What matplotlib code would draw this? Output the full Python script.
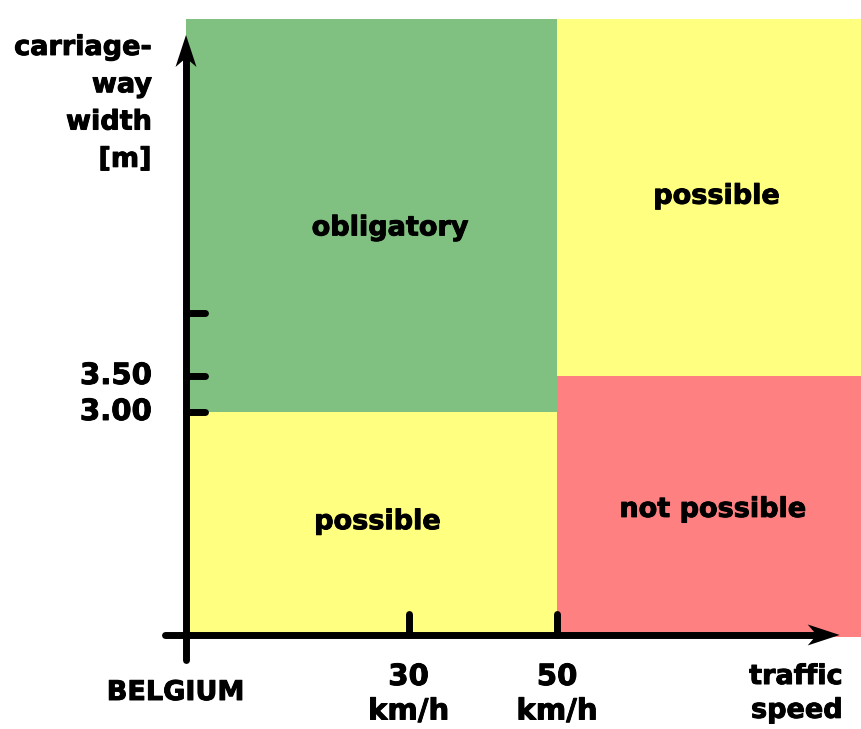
import matplotlib.pyplot as plt
import matplotlib.patheffects as pe
from matplotlib.patches import Polygon

# schematic axes: speed in km/h, carriageway width in m
speed_ticks = [30, 50]
speed_labels = ["30", "50"]
width_ticks = [3.00, 3.50, 4.375]
width_labels = ["3.00", "3.50", ""]

# zones: speed range, width range, colour, label
zone_speed = [(0, 50), (50, 92), (0, 50), (50, 92)]
zone_width = [(3.00, 8.46), (3.50, 8.46), (-0.12, 3.00), (-0.12, 3.50)]
zone_color = ["#80c080", "#ffff80", "#ffff80", "#ff8080"]
zone_label = ["obligatory", "possible", "possible", "not possible"]
zone_label_pos = [(27.5, 5.55), (71.5, 5.99), (25.8, 1.47), (71.0, 1.64)]

ylabel_lines = ["carriage-", "way", "width", "[m]"]
xlabel_lines = ["traffic", "speed"]

FONT = "DejaVu Sans"
FS = 19.5
# slightly heavier glyphs
heavy = [pe.withStroke(linewidth=0.7, foreground="black")]

fig = plt.figure(figsize=(8.62, 7.29), dpi=100)
ax = fig.add_axes([0, 0, 1, 1])
ax.set_xlim(-25.07, 91.11)
ax.set_ylim(-1.403, 8.722)
ax.axis("off")

# pixel size of one data unit (for arrow heads)
px_x = 7.42
px_y = 72.0

for (x0, x1), (y0, y1), c in zip(zone_speed, zone_width, zone_color):
    ax.bar(x0, y1 - y0, width=x1 - x0, bottom=y0, align="edge",
           color=c, linewidth=0, zorder=1)

for txt, (x, y) in zip(zone_label, zone_label_pos):
    ax.text(x, y, txt, ha="center", va="center", fontsize=FS,
            fontweight="bold", family=FONT, zorder=3, path_effects=heavy)

# axes with arrow heads
lw = 5
x_axis_y = -0.097
y_tip = 8.236
x_tip = 88.1
ax.plot([0, 0], [-0.444, y_tip - 20 / px_y], color="black", lw=lw,
        solid_capstyle="round", zorder=4)
ax.plot([-2.83, x_tip - 20 / px_x], [x_axis_y, x_axis_y], color="black",
        lw=lw, solid_capstyle="round", zorder=4)
hl, hw, notch = 32, 10.5, 23
ax.add_patch(Polygon([(0, y_tip), (-hw / px_x, y_tip - hl / px_y),
                      (0, y_tip - notch / px_y), (hw / px_x, y_tip - hl / px_y)],
                     closed=True, color="black", lw=0, zorder=5))
ax.add_patch(Polygon([(x_tip, x_axis_y), (x_tip - hl / px_x, x_axis_y + hw / px_y),
                      (x_tip - notch / px_x, x_axis_y),
                      (x_tip - hl / px_x, x_axis_y - hw / px_y)],
                     closed=True, color="black", lw=0, zorder=5))

# ticks
for v in speed_ticks:
    ax.plot([v, v], [x_axis_y, 0.19], color="black", lw=lw,
            solid_capstyle="round", zorder=4)
for w in width_ticks:
    ax.plot([0, 2.5], [w, w], color="black", lw=lw,
            solid_capstyle="round", zorder=4)

for v, lab in zip(speed_ticks, speed_labels):
    ax.text(v, -0.681, lab, ha="center", va="center", fontsize=21,
            fontweight="bold", family=FONT, path_effects=heavy)
    ax.text(v, -1.16, "km/h", ha="center", va="center", fontsize=21,
            fontweight="bold", family=FONT, path_effects=heavy)
for w, lab in zip(width_ticks, width_labels):
    ax.text(-4.6, w, lab, ha="right", va="center", fontsize=21,
            fontweight="bold", family=FONT, path_effects=heavy)

for i, line in enumerate(ylabel_lines):
    ax.text(-4.6, 8.056 - i * 0.518, line, ha="right", va="center",
            fontsize=FS, fontweight="bold", family=FONT, path_effects=heavy)
for i, line in enumerate(xlabel_lines):
    ax.text(88.5, -0.681 - i * 0.47, line, ha="right", va="center",
            fontsize=FS, fontweight="bold", family=FONT, path_effects=heavy)
ax.text(-1.4, -0.903, "BELGIUM", ha="center", va="center", fontsize=FS,
        fontweight="bold", family=FONT, path_effects=heavy)

fig.savefig("out.png", dpi=100)
